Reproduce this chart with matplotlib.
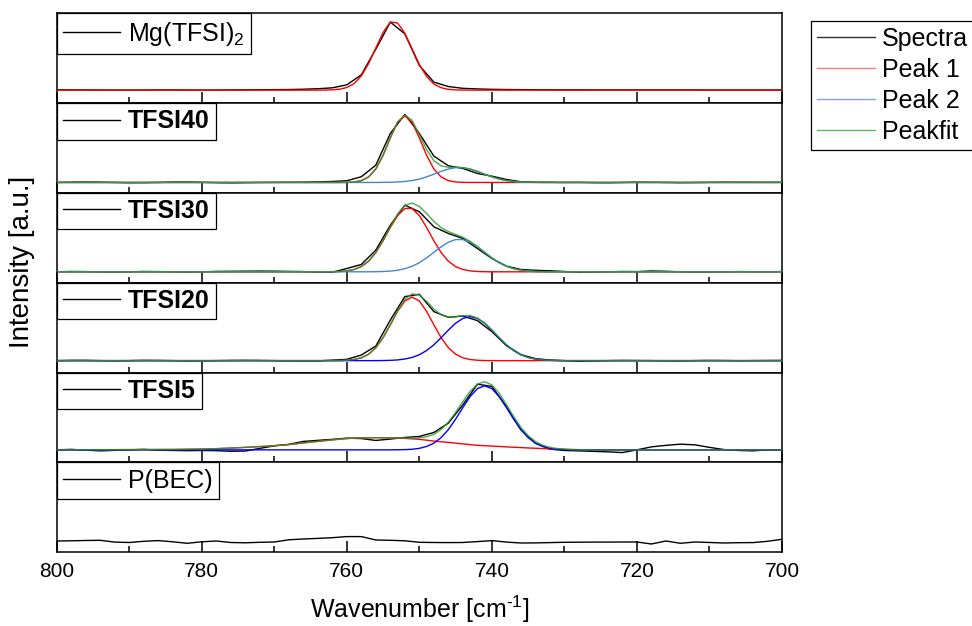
import numpy as np
import matplotlib
matplotlib.use("Agg")
import matplotlib.pyplot as plt
from matplotlib.lines import Line2D
from matplotlib.ticker import MultipleLocator

plt.rcParams['font.family'] = ['Liberation Sans', 'DejaVu Sans']
plt.rcParams['mathtext.fontset'] = 'custom'
plt.rcParams['mathtext.rm'] = 'Liberation Sans'
plt.rcParams['mathtext.default'] = 'regular'

# measured spectra, 800 -> 700 cm-1 in 2 cm-1 steps (intensity a.u.)
SPEC_X = np.arange(800, 699, -2)

mg_tfsi2 = [0.3, 0.2, 0.2, 0.1, 0, 0, 0.1, 0.2, 0.2, 0.1, 0, 0.1, 0.2, 0.3, 0.4, 0.5,
            0.6, 0.9, 1.4, 2.3, 5.3, 15.3, 41, 68, 56.3, 24.6, 8, 3.6, 1.8,
            1.2, 0.8, 0.6, 0.5, 0.4, 0.3, 0.3, 0.3, 0.2, 0.2, 0.2, 0.2, 0.2, 0.2, 0.2, 0.2,
            0.1, 0.1, 0.1, 0.1, 0.1, 0.1]
tfsi40 = [0, 0.3, 0.5, 0.3, 0, -0.3, -0.2, 0, 0.4, 0.5, 0.2, -0.2, -0.4, -0.2, 0, 0.1,
          0.2, 0.3, 0.6, 1.0, 1.7, 5.7, 17.3, 49, 68, 49, 26.3, 16.7, 14, 9, 6.3, 3, 0.7,
          0.3, 0.2, 0, 0.1, -0.2, -0.3, 0, 0.3, 0.2, 0, -0.2, -0.1, 0.1, 0.3, 0.2, 0.2, 0.1, 0.2]
tfsi30 = [0, 0.3, 0.2, -0.2, -0.3, 0, 0.3, 0.2, 0, -0.3, 0, 0.4, 0.5, 0.6, 0.7, 0.6,
          0.4, 0.2, -0.4, -0.5, 3.3, 7.3, 21.7, 46.6, 66.6, 60, 45, 38.3, 33.3, 23.3, 13.3,
          5.7, 2.3, 1.5, 1.0, 0.3,
          -0.6, -0.3, 0, 0.3, 0.2, 0.8, 0.5, 0, -0.3, -0.2, 0, 0.2, 0.1, 0, 0.2]
tfsi20 = [0, 0.3, 0.3, 0, -0.2, 0, 0.3, 0.2, 0, -0.3, -0.2, 0, 0.2, 0.3, 0.2, 0,
          -0.2, -0.3, -0.3, 0.5, 1.3, 5.6, 14.6, 40.6, 64, 66.3, 49, 43.3, 44.6, 40, 29,
          15, 6, 2, 0.6, 0,
          -0.6, -0.3, 0, 0.2, 0.1, 0, -0.2, -0.3, 0, 0.2, 0.1, -0.1, 0, 0.1, 0.2]
tfsi5 = [0, 0.5, -0.3, -1, -0.5, 0, 0.5, -0.3, -0.6, -0.8, -0.6, -0.8, -1.4, -1.2, 1.5, 4,
         5.5, 8.4, 9.5, 10.5, 11.7, 11.3, 9.4, 10.8, 12.4, 13.4, 17.4, 26.7, 45, 65.7, 63.4,
         43.4, 20, 6.7, 0.7, -0.6,
         -1, -1.5, -2, -2.7, 0, 3, 4.5, 5.7, 5.0, 2.5, 0.3, -0.6, -1, 0, 0]
pbec = [0.3, 0.5, 0.8, 1, -0.8, -1.2, 0, 0.7, -0.5, -2, -0.5, 0.3, -1.2, -1.5, -1, -0.7,
        1.5, 2.3, 2.9, 3.6, 4.7, 4.7, 1.3, 1, 0.5, -1, -1.2, -1.3, -1.2, -0.3, 0.7, -0.8,
        -1.7, -1.6, -1.3, -1,
        -0.9, -0.8, -0.8, -0.7, -0.7, -2.7, 0.3, -2, -0.7, -1.2, -1.7, -1.4, -1.3, 0, 2]

# fitted components, 766 -> 726 cm-1 in 1 cm-1 steps
FIT_X = np.arange(766, 725, -1)

mg_peak1 = [0, 0, 0, 0.1, 0.3, 0.9, 2.6, 6.5, 14.2, 26.5, 42.2, 57.6, 68.2, 67.1, 56.8, 41.3,
            25.6, 13.6, 6.1, 2.4, 0.8, 0.2, 0.1,
            0, 0, 0, 0, 0, 0, 0, 0, 0, 0, 0, 0, 0, 0, 0, 0, 0, 0]

t40_peak1 = [0, 0, 0, 0, 0, 0, 0.1, 0.5, 1.8, 5.5, 13.5, 27.1, 44.6, 60.2, 66.5, 60.2,
             44.6, 27.1, 13.5, 5.5, 1.8, 0.5, 0.1,
             0, 0, 0, 0, 0, 0, 0, 0, 0, 0, 0, 0, 0, 0, 0, 0, 0, 0]
t40_peak2 = [0, 0, 0, 0, 0, 0, 0, 0, 0, 0, 0,
             0.1, 0.2, 0.45, 0.95, 1.9, 3.4, 5.6, 8.3, 11.1, 13.4, 14.8, 14.8, 13.4, 11.1,
             8.3, 5.6, 3.4, 1.9, 0.95, 0.45, 0.2, 0.1,
             0, 0, 0, 0, 0, 0, 0, 0]
t40_fit = [0, 0, 0, 0, 0, 0,
           0.1, 0.5, 1.8, 5.5, 13.5, 27.2, 44.8, 60.7, 67.5, 62.1, 48.0, 32.7, 21.8, 16.6,
           15.2, 15.3, 14.9, 13.4, 11.1, 8.3, 5.6, 3.4, 1.9, 0.95, 0.45, 0.2, 0.1,
           0, 0, 0, 0, 0, 0, 0, 0]

t30_peak1 = [0, 0, 0, 0,
             0.1, 0.3, 0.9, 2.3, 5.2, 10.6, 19.2, 31, 44.3, 56.2, 63.3, 63.3, 56.2, 44.3,
             31, 19.2, 10.6, 5.2, 2.3, 0.9, 0.3, 0.1,
             0, 0, 0, 0, 0, 0, 0, 0, 0, 0, 0, 0, 0, 0, 0]
t30_peak2 = [0, 0, 0, 0, 0, 0, 0, 0, 0, 0,
             0.1, 0.3, 0.7, 1.6, 3.1, 5.5, 9.1, 13.9, 19.4, 25, 29.6, 32.2, 32.2, 29.6, 25,
             19.4, 13.9, 9.1, 5.5, 3.1, 1.6, 0.7, 0.3, 0.1,
             0, 0, 0, 0, 0, 0, 0]
t30_fit = [0, 0, 0, 0,
           0.1, 0.3, 0.9, 2.3, 5.2, 10.6, 19.3, 31.3, 45.0, 57.8, 66.4, 68.8, 65.3, 58.2,
           50.4, 44.2, 40.2, 37.4, 34.5, 30.5, 25.3, 19.5, 13.9, 9.1, 5.5, 3.1, 1.6, 0.7,
           0.3, 0.1,
           0, 0, 0, 0, 0, 0, 0]

t20_peak1 = [0, 0, 0, 0, 0,
             0.1, 0.4, 1.1, 2.8, 6.4, 12.9, 22.9, 35.8, 49.2, 59.6, 63.5, 59.6, 49.2, 35.8,
             22.9, 12.9, 6.4, 2.8, 1.1, 0.4, 0.1,
             0, 0, 0, 0, 0, 0, 0, 0, 0, 0, 0, 0, 0, 0, 0]
t20_peak2 = [0, 0, 0, 0, 0, 0, 0, 0, 0, 0, 0,
             0.1, 0.3, 0.7, 1.6, 3.2, 5.9, 10.1, 15.8, 22.9, 30.5, 37.4, 42.2, 44, 42.2,
             37.4, 30.5, 22.9, 15.8, 10.1, 5.9, 3.2, 1.6, 0.7, 0.3, 0.1,
             0, 0, 0, 0, 0]
t20_fit = [0, 0, 0, 0, 0,
           0.1, 0.4, 1.1, 2.8, 6.4, 12.9, 23.0, 36.1, 49.9, 61.2, 66.7, 65.5, 59.3, 51.6,
           45.8, 43.4, 43.8, 45.0, 45.1, 42.6, 37.5, 30.5, 22.9, 15.8, 10.1, 5.9, 3.2, 1.6,
           0.7, 0.3, 0.1,
           0, 0, 0, 0, 0]

# TFSI5 has a broad first component, 784 -> 722 cm-1 in 1 cm-1 steps
P5_FIT_X = np.arange(784, 721, -1)

t5_peak1 = [0.4, 0.5, 0.6, 0.7, 0.8, 1.0, 1.2, 1.5, 1.8, 2.1, 2.5, 2.9, 3.3, 3.7, 4.2, 4.7,
            5.3, 6.1, 7.0, 7.7, 8.5, 9.2, 10.0, 10.7, 11.3, 11.7, 12.0, 12.1, 12.2, 12.1,
            12.0, 11.8, 11.5, 11.0, 10.5, 9.7, 8.8, 8.1, 7.5, 6.7, 6.0, 5.2, 4.5, 4.1, 3.8,
            3.4, 3.0, 2.6, 2.3, 1.9, 1.6, 1.3, 1.0, 0.7, 0.5, 0.3, 0.2, 0.1, 0, 0, 0, 0, 0]
t5_peak2 = [0] * 31 + [0.1, 0.25, 0.6, 1.5, 3.4, 6.7, 12.2, 20.3, 30.7, 42.3, 53.3, 61.2,
                       64, 61.2, 53.3, 42.3, 30.7, 20.3, 12.2, 6.7, 3.4, 1.5, 0.6, 0.25,
                       0.1] + [0] * 7
t5_fit = [0.4, 0.5, 0.6, 0.7, 0.8, 1.0, 1.2, 1.5, 1.8, 2.1, 2.5, 2.9, 3.3, 3.7, 4.2, 4.7,
          5.3, 6.1, 7.0, 7.7, 8.5, 9.2, 10.0, 10.7, 11.3, 11.7, 12.0, 12.1, 12.2, 12.1, 12.0,
          11.9, 11.8, 11.6, 12.0, 13.1, 15.5, 20.3, 27.8, 37.4, 48.3, 58.5, 65.7, 68.1, 65.0,
          56.7, 45.3, 33.3, 22.6, 14.1, 8.3, 4.7, 2.5, 1.3, 0.8, 0.4, 0.2, 0.1,
          0, 0, 0, 0, 0]

names = ['Mg(TFSI)$_2$', 'TFSI40', 'TFSI30', 'TFSI20', 'TFSI5', 'P(BEC)']
bold = [False, True, True, True, True, False]
spectra = [mg_tfsi2, tfsi40, tfsi30, tfsi20, tfsi5, pbec]
fits = [
    (FIT_X, mg_peak1, None, None),
    (FIT_X, t40_peak1, t40_peak2, t40_fit),
    (FIT_X, t30_peak1, t30_peak2, t30_fit),
    (FIT_X, t20_peak1, t20_peak2, t20_fit),
    (P5_FIT_X, t5_peak1, t5_peak2, t5_fit),
    None,
]
blue_cols = [None, '#3f88cc', '#3f88cc', '#0000ff', '#0000ff', None]
base_off = [13, 10.5, 11, 12, 12.6, 11]
H = 89.8

fig = plt.figure(figsize=(9.72, 6.26), dpi=100)
gs = fig.add_gridspec(6, 1, left=56.7/972, right=782/972, top=1-13.3/626,
                      bottom=1-552.3/626, hspace=0)


def pad(x, y):
    # fit components sit on the baseline outside the fitted window
    return np.r_[800, x, 700], np.r_[0, y, 0]


for i in range(6):
    ax = fig.add_subplot(gs[i])
    h, = ax.plot(SPEC_X, spectra[i], color='black', lw=1.0, zorder=2)
    if fits[i] is not None:
        fx, p1, p2, pf = fits[i]
        ax.plot(*pad(fx, p1), color='#ff0000', lw=1.0, zorder=3)
        if p2 is not None:
            ax.plot(*pad(fx, p2), color=blue_cols[i], lw=1.0, zorder=3)
            ax.plot(*pad(fx, pf), color='#2e9a2e', lw=1.0, alpha=0.85, zorder=4)
    ax.set_xlim(800, 700)
    ax.set_ylim(-base_off[i], H - base_off[i])
    ax.set_yticks([])
    ax.xaxis.set_major_locator(MultipleLocator(20))
    ax.xaxis.set_minor_locator(MultipleLocator(10))
    ax.tick_params(axis='x', which='both', direction='in', top=False,
                   labelbottom=(i == 5), labelsize=15, pad=7, width=1.1)
    ax.tick_params(axis='x', which='major', length=8)
    ax.tick_params(axis='x', which='minor', length=4.5)
    for s in ax.spines.values():
        s.set_linewidth(1.1)
    leg = ax.legend([h], [names[i]], loc='upper left', bbox_to_anchor=(0, 1),
                    borderaxespad=0, fancybox=False, edgecolor='black', framealpha=1,
                    handlelength=2.3, handletextpad=0.3, borderpad=0.25,
                    prop={'size': 18, 'weight': 'bold' if bold[i] else 'normal'})
    leg.get_frame().set_linewidth(0.9)
    if i == 5:
        ax.set_xlabel(r'Wavenumber [cm$^{\text{-1}}$]', fontsize=18, labelpad=9)

fig.text(22/972, 1-262/626, 'Intensity [a.u.]', rotation=90, ha='center', va='center',
         fontsize=20)

key = [Line2D([], [], color='#333333', lw=1.0),
       Line2D([], [], color='#f07f7f', lw=1.0),
       Line2D([], [], color='#7ea6d6', lw=1.0),
       Line2D([], [], color='#5cb85c', lw=1.0)]
kl = fig.legend(key, ['Spectra', 'Peak 1', 'Peak 2', 'Peakfit'], loc='upper left',
                bbox_to_anchor=(811/972, 1-20.7/626), borderaxespad=0, fancybox=False,
                edgecolor='black', framealpha=1, handlelength=2.3, handletextpad=0.3,
                borderpad=0.25, labelspacing=0.28, prop={'size': 18})
kl.get_frame().set_linewidth(0.9)

fig.savefig('out.png', dpi=100)
